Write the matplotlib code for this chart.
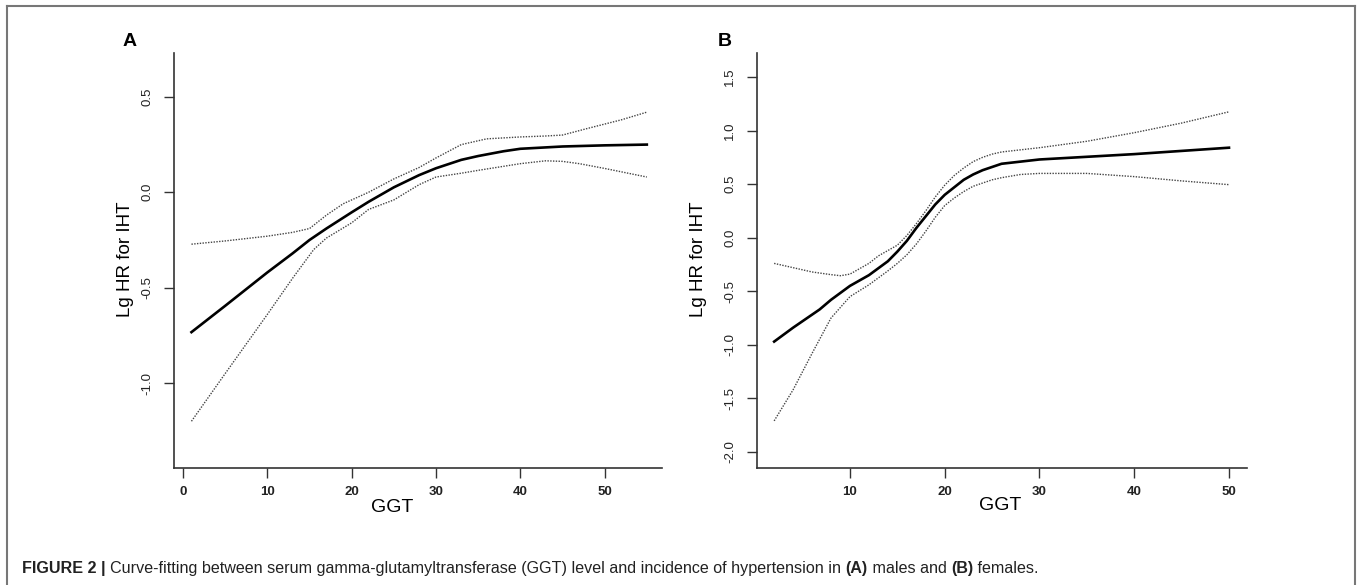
import matplotlib
matplotlib.use('Agg')
import matplotlib.pyplot as plt
from matplotlib.lines import Line2D

# --- data ---
# Panel A (males)
a_x_fit = [1, 5, 10, 13, 15, 17, 20, 22, 25, 28, 30, 33, 35, 38, 40, 45, 50, 55]
a_fit = [-0.733, -0.595, -0.42, -0.32, -0.25, -0.19, -0.105, -0.05, 0.026, 0.09,
         0.126, 0.17, 0.19, 0.215, 0.228, 0.24, 0.246, 0.25]
a_x_up = [1, 5, 10, 13, 15, 17, 19, 21, 22, 25, 28, 30, 33, 36, 40, 43, 45, 48, 52, 55]
a_up = [-0.272, -0.255, -0.23, -0.21, -0.19, -0.12, -0.06, -0.02, 0.0, 0.07, 0.13,
        0.18, 0.25, 0.28, 0.29, 0.295, 0.30, 0.335, 0.38, 0.42]
a_x_lo = [1, 5, 10, 13, 15.5, 17, 20, 22, 25, 28, 30, 33, 35, 40, 43, 45, 47, 50, 55]
a_lo = [-1.2, -0.95, -0.64, -0.45, -0.30, -0.24, -0.16, -0.09, -0.04, 0.04, 0.08,
        0.10, 0.115, 0.15, 0.165, 0.162, 0.15, 0.125, 0.08]

# Panel B (females)
b_x_fit = [2, 4, 6.8, 8, 10, 12, 14, 15, 16, 17, 18, 19, 20, 21, 22, 23, 24, 25,
           26, 28, 30, 35, 40, 45, 50]
b_fit = [-0.97, -0.84, -0.67, -0.58, -0.45, -0.35, -0.22, -0.13, -0.03, 0.09, 0.2,
         0.31, 0.40, 0.47, 0.54, 0.59, 0.63, 0.66, 0.69, 0.71, 0.73, 0.755, 0.78,
         0.81, 0.84]
b_x_up = [2, 4, 6, 8, 9, 10, 11, 12, 13, 14, 15, 16, 17, 18, 19, 20, 21, 22, 23,
          24, 25, 26, 28, 30, 35, 40, 45, 50]
b_up = [-0.24, -0.28, -0.32, -0.345, -0.355, -0.34, -0.29, -0.24, -0.17, -0.12,
        -0.07, 0.02, 0.13, 0.25, 0.38, 0.49, 0.58, 0.65, 0.71, 0.75, 0.78, 0.80,
        0.82, 0.84, 0.90, 0.98, 1.07, 1.175]
b_x_lo = [2, 4, 6, 8, 10, 12, 14, 15, 16, 17, 18, 19, 20, 21, 22, 23, 24, 25, 26,
          28, 30, 35, 40, 45, 50]
b_lo = [-1.71, -1.42, -1.08, -0.75, -0.55, -0.44, -0.31, -0.24, -0.16, -0.06, 0.06,
        0.19, 0.3, 0.37, 0.43, 0.48, 0.51, 0.54, 0.56, 0.59, 0.60, 0.60, 0.57, 0.53,
        0.495]

a_xticks = [0, 10, 20, 30, 40, 50]
a_yticks = [-1.0, -0.5, 0.0, 0.5]
b_xticks = [10, 20, 30, 40, 50]
b_yticks = [-2.0, -1.5, -1.0, -0.5, 0.0, 0.5, 1.0, 1.5]

W, H = 1358, 585
plt.rcParams['font.family'] = ['Liberation Sans', 'DejaVu Sans']
fig = plt.figure(figsize=(W / 100, H / 100), dpi=100)


def fx(x):
    return x / W


def fy(y):
    return 1 - y / H


def draw_panel(left, right, top, bottom, xlim, ylim, fit, up, lo, xticks, yticks):
    ax = fig.add_axes([fx(left), fy(bottom), fx(right) - fx(left), fy(top) - fy(bottom)])
    ax.plot(*fit, color='black', lw=1.9)
    ax.plot(*up, color='#444444', lw=1.0, ls=(0, (1, 1.0)))
    ax.plot(*lo, color='#444444', lw=1.0, ls=(0, (1, 1.0)))
    ax.set_xlim(*xlim)
    ax.set_ylim(*ylim)
    for s in ['top', 'right']:
        ax.spines[s].set_visible(False)
    for s in ['left', 'bottom']:
        ax.spines[s].set_color('#333333')
        ax.spines[s].set_linewidth(1.2)
    ax.set_xticks(xticks)
    ax.set_xticklabels([str(t) for t in xticks], fontsize=9.5, fontweight='bold',
                       color='#222222')
    ax.set_yticks(yticks)
    ax.set_yticklabels([f"{t:.1f}" for t in yticks], fontsize=9.5, rotation=90,
                       va='center', color='#222222')
    ax.tick_params(axis='both', direction='out', length=7, width=1.0,
                   color='#333333')
    ax.tick_params(axis='x', pad=6)
    ax.tick_params(axis='y', pad=8)
    return ax


draw_panel(174, 662, 53, 468, (-1.07, 56.8), (-1.445, 0.73),
           (a_x_fit, a_fit), (a_x_up, a_up), (a_x_lo, a_lo), a_xticks, a_yticks)
draw_panel(757, 1247, 53, 468, (0.19, 51.9), (-2.15, 1.724),
           (b_x_fit, b_fit), (b_x_up, b_up), (b_x_lo, b_lo), b_xticks, b_yticks)

# panel letters and axis titles
fig.text(fx(130), fy(41), 'A', fontsize=14, fontweight='bold', ha='center', va='center')
fig.text(fx(725), fy(41), 'B', fontsize=14, fontweight='bold', ha='center', va='center')
fig.text(fx(126), fy(259), 'Lg HR for IHT', fontsize=13.5, rotation=90, ha='center', va='center')
fig.text(fx(699), fy(259), 'Lg HR for IHT', fontsize=13.5, rotation=90, ha='center', va='center')
fig.text(fx(392), fy(508), 'GGT', fontsize=14, ha='center', va='center')
fig.text(fx(1000), fy(505), 'GGT', fontsize=14, ha='center', va='center')

# frame around figure (open at the bottom)
frame_col = '#777777'
fig.add_artist(Line2D([fx(7), fx(7)], [fy(6), 0], color=frame_col, lw=1.5))
fig.add_artist(Line2D([fx(1355), fx(1355)], [fy(6), 0], color=frame_col, lw=1.5))
fig.add_artist(Line2D([fx(7), fx(1355)], [fy(6), fy(6)], color=frame_col, lw=1.5))

# caption, pieced together with mixed weights on a shared baseline
pieces = [('FIGURE 2 | ', 'bold'),
          ('Curve-fitting between serum gamma-glutamyltransferase (GGT) level and '
           'incidence of hypertension in ', 'normal'),
          ('(A)', 'bold'), (' males and ', 'normal'), ('(B)', 'bold'),
          (' females.', 'normal')]
renderer = fig.canvas.get_renderer()
xpos = 22
for txt, wt in pieces:
    t = fig.text(fx(xpos), fy(573), txt, fontsize=11.6, fontweight=wt,
                 color='#222222', ha='left', va='baseline')
    bb = t.get_window_extent(renderer=renderer)
    xpos += bb.width

fig.savefig('out.png', dpi=100)
